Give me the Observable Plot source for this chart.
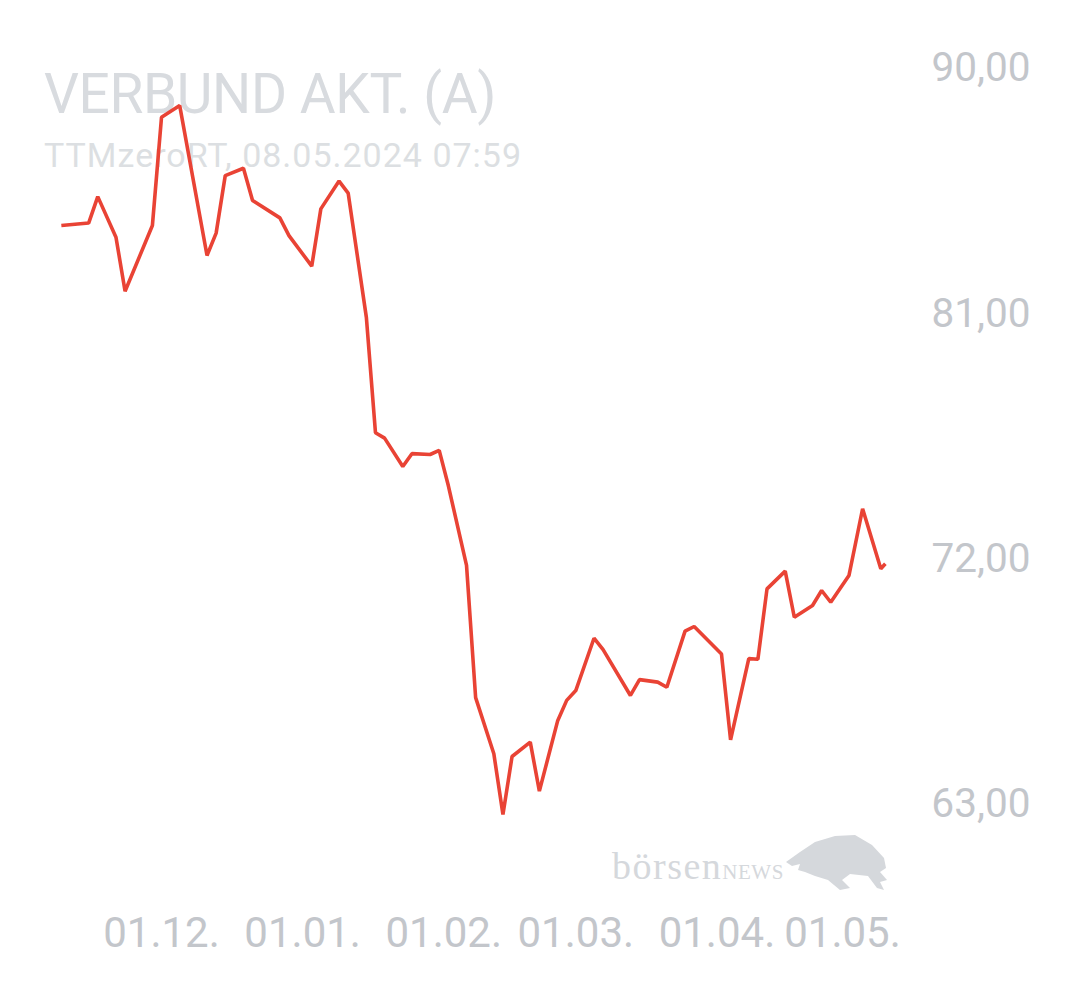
<!DOCTYPE html>
<html>
<head>
<meta charset="utf-8">
<script src="https://cdn.jsdelivr.net/npm/d3@7"></script>
<script src="https://cdn.jsdelivr.net/npm/@observablehq/plot@0.6"></script>
<style>
  html, body { margin: 0; padding: 0; background: #fff; }
  #wrap { position: relative; width: 1080px; height: 990px; overflow: hidden; }
  .title { position: absolute; left: 44px; top: 67px; font-family: Roboto, sans-serif; font-size: 55px; letter-spacing: -0.4px; line-height: 55px; color: #d8dbdf; white-space: nowrap; }
  .sub { position: absolute; left: 44px; top: 138px; font-family: Roboto, sans-serif; font-size: 34px; letter-spacing: 1.0px; line-height: 34px; color: #dcdfe2; white-space: nowrap; }
  .brand { position: absolute; left: 612px; top: 846px; font-family: "Liberation Serif", serif; color: #d5d8dc; white-space: nowrap; line-height: 40px; }
  .brand .b1 { font-size: 38px; letter-spacing: 1.5px; }
  .brand .b2 { font-size: 21px; letter-spacing: 0.5px; }
  #bull { position: absolute; left: 0; top: 0; }
  #chart { position: absolute; left: 0; top: 0; }
</style>
</head>
<body>
<div id="wrap">
  <div class="title">VERBUND AKT. (A)</div>
  <div class="sub">TTMzeroRT, 08.05.2024 07:59</div>
  <div class="brand"><span class="b1">börsen</span><span class="b2">NEWS</span></div>
  <svg id="bull" width="1080" height="990"><path fill="#d5d8dc" d="M786,862 L800,852 L815,842 L835,836 L855,835 L872,845 L884,858 L886,868 L880,872 L887,880 L880,882 L884,890 L877,888 L868,876 L850,874 L842,880 L850,888 L840,890 L828,880 L815,876 L805,872 L798,870 L800,864 L792,866 Z"/></svg>
  <div id="chart"></div>
</div>
<script>
// Data (VERBUND AKT. (A), Nov 2023 – May 2024)
const dates = [
  "2023-11-09","2023-11-15","2023-11-17","2023-11-21","2023-11-23","2023-11-29",
  "2023-12-01","2023-12-05","2023-12-11","2023-12-13","2023-12-15","2023-12-19",
  "2023-12-21","2023-12-27","2023-12-29","2024-01-03","2024-01-05","2024-01-09",
  "2024-01-11","2024-01-15","2024-01-17","2024-01-19","2024-01-23","2024-01-25",
  "2024-01-29","2024-01-31","2024-02-02","2024-02-06","2024-02-08","2024-02-12",
  "2024-02-14","2024-02-16","2024-02-20","2024-02-22","2024-02-26","2024-02-28",
  "2024-03-01","2024-03-05","2024-03-07","2024-03-13","2024-03-15","2024-03-19",
  "2024-03-21","2024-03-25","2024-03-27","2024-04-02","2024-04-04","2024-04-08",
  "2024-04-10","2024-04-12","2024-04-16","2024-04-18","2024-04-22","2024-04-24",
  "2024-04-26","2024-04-30","2024-05-03","2024-05-07","2024-05-08"
];
const prices = [
  84.24, 84.33, 85.30, 83.81, 81.83, 84.24,
  88.21, 88.64, 83.14, 83.96, 86.07, 86.34,
  85.16, 84.52, 83.87, 82.75, 84.85, 85.87,
  85.43, 80.87, 76.64, 76.44, 75.40, 75.87,
  75.84, 75.99, 74.70, 71.77, 66.92, 64.86,
  62.63, 64.76, 65.29, 63.49, 66.06, 66.82,
  67.18, 69.10, 68.68, 67.00, 67.58, 67.49,
  67.30, 69.36, 69.53, 68.52, 65.37, 68.35,
  68.33, 70.91, 71.56, 69.87, 70.30, 70.85,
  70.42, 71.40, 73.85, 71.65, 71.83
];
const yTicks = [63, 72, 81, 90];
const xTicks = ["2023-12-01", "2024-01-01", "2024-02-01", "2024-03-01", "2024-04-01"];
const xTickLast = ["2024-05-01"];
const xDomain = ["2023-12-01", "2024-05-01"];

const data = dates.map((d, i) => ({date: new Date(d), price: prices[i]}));
const fmtY = v => v.toFixed(2).replace(".", ",");
const fmtX = d3.utcFormat("%d.%m.");
const gray = "#c3c6cb";

const chart = Plot.plot({
  width: 1080,
  height: 990,
  marginTop: 68,
  marginBottom: 186,
  marginLeft: 161,
  marginRight: 227,
  style: {fontFamily: "Roboto, sans-serif", fontSize: "42px", background: "transparent", overflow: "visible"},
  x: {type: "utc", domain: xDomain.map(d => new Date(d))},
  y: {domain: [63, 90]},
  marks: [
    Plot.axisY(yTicks, {anchor: "right", tickSize: 0, tickPadding: 78, tickFormat: fmtY, fill: gray, label: null, textAnchor: "start", fontSize: 40.5}),
    Plot.axisX(xTicks.map(d => new Date(d)), {anchor: "bottom", tickSize: 0, tickPadding: 113, tickFormat: fmtX, fill: gray, label: null}),
    Plot.axisX(xTickLast.map(d => new Date(d)), {anchor: "bottom", tickSize: 0, tickPadding: 113, tickFormat: fmtX, fill: gray, label: null, dx: -11}),
    Plot.line(data, {x: "date", y: "price", stroke: "#e94335", strokeWidth: 3.6, strokeLinejoin: "miter", strokeLinecap: "butt"})
  ]
});
document.getElementById("chart").appendChild(chart);
</script>
</body>
</html>
